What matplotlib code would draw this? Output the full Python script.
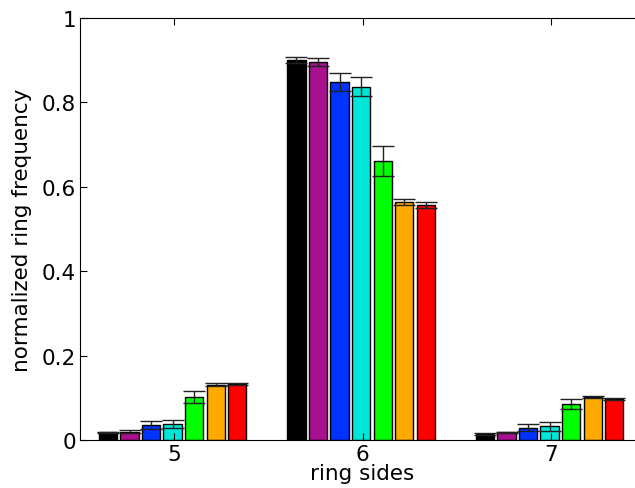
import matplotlib
matplotlib.use("Agg")
import matplotlib.pyplot as plt
import numpy as np

# ring sizes on the x axis
ring_sides = [5, 6, 7]

# one series per colour, values for ring sides 5, 6, 7
series_colors = ["#000000", "#a8108f", "#0033ff", "#00e6d8", "#00ff00", "#ffaa00", "#ff0000"]
means = [
    [0.018, 0.901, 0.015],
    [0.020, 0.896, 0.018],
    [0.036, 0.848, 0.029],
    [0.038, 0.837, 0.032],
    [0.102, 0.661, 0.085],
    [0.131, 0.564, 0.102],
    [0.132, 0.556, 0.097],
]
errors = [
    [0.002, 0.007, 0.002],
    [0.003, 0.010, 0.002],
    [0.009, 0.022, 0.008],
    [0.009, 0.023, 0.010],
    [0.015, 0.036, 0.011],
    [0.003, 0.006, 0.002],
    [0.002, 0.007, 0.002],
]

plt.rcParams["font.family"] = "DejaVu Sans"
plt.rcParams["font.size"] = 15.5

fig = plt.figure(figsize=(6.35, 4.89), dpi=100)
ax = fig.add_axes([80 / 635, 48 / 489, 565 / 635, 422 / 489])

n = len(series_colors)
step = 0.8 / n
width = 0.097
x = np.array(ring_sides, float)
for i, (m, e, c) in enumerate(zip(means, errors, series_colors)):
    left = x - 0.4 + i * step
    ax.bar(left, m, width=width, align="edge", color=c, edgecolor="black", linewidth=1,
           yerr=e, error_kw=dict(ecolor="#222222", elinewidth=1, capsize=8, capthick=1))

ax.set_xlim(4.5, 4.5 + 565 / 188.5)
ax.set_ylim(0, 1)
ax.set_xticks(ring_sides)
ax.set_yticks([0, 0.2, 0.4, 0.6, 0.8, 1])
ax.set_yticklabels(["0", "0.2", "0.4", "0.6", "0.8", "1"])
ax.tick_params(direction="in", length=5, top=True, right=False)
ax.tick_params(axis="x", pad=3)
ax.tick_params(axis="y", pad=3)
ax.spines["right"].set_visible(False)
ax.set_xlabel("ring sides", labelpad=-1)
ax.set_ylabel("normalized ring frequency", labelpad=7)

fig.savefig("out.png", dpi=100)
